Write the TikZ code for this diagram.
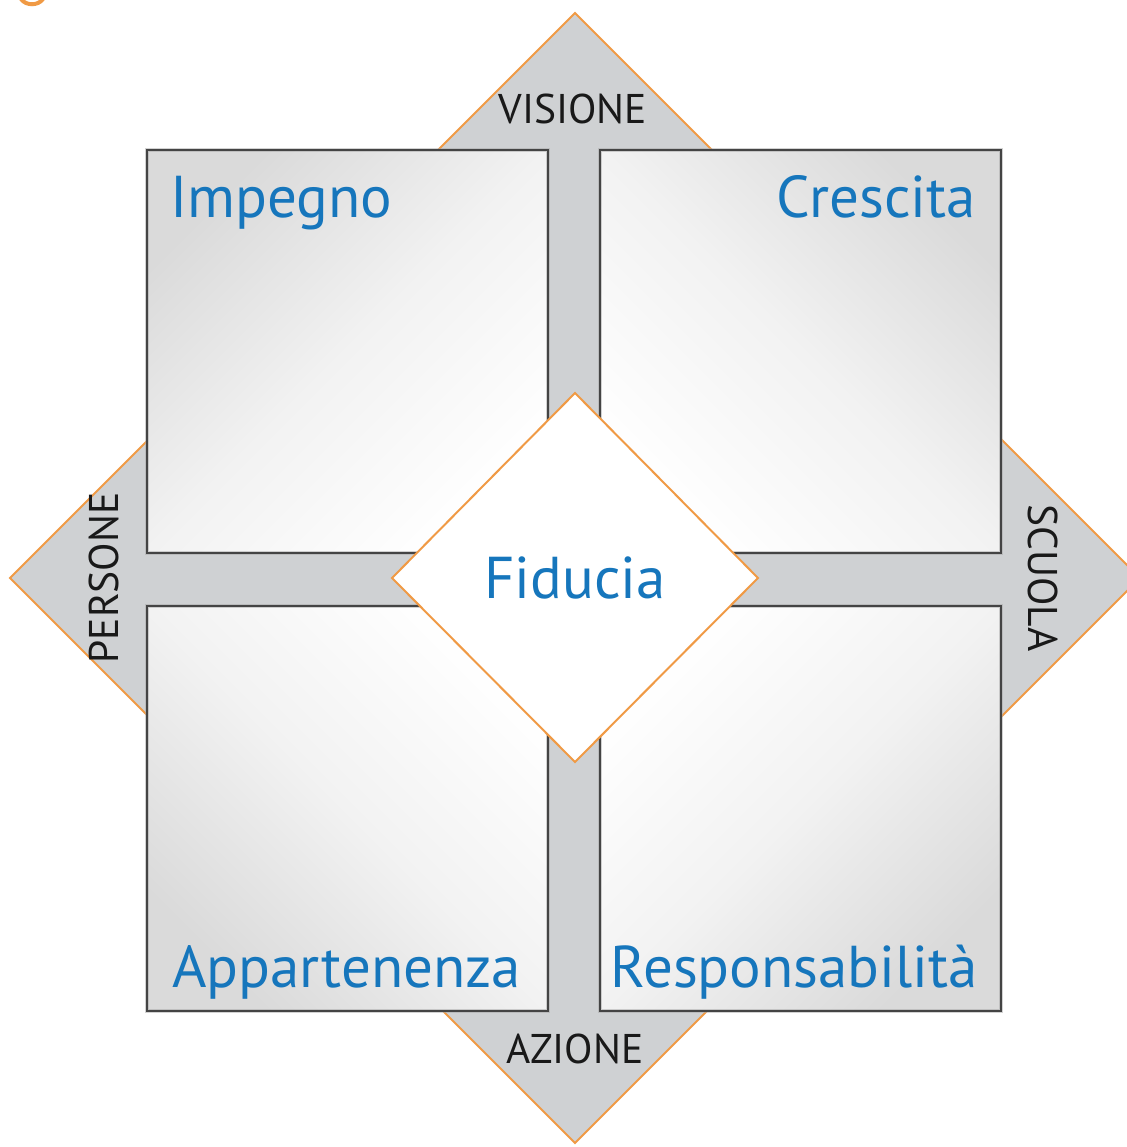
\documentclass[tikz,border=0pt]{standalone}
\usepackage{fontspec}
\setmainfont{PT Sans}
\definecolor{fblue}{HTML}{1676BC}
\definecolor{forange}{HTML}{F09A45}
\definecolor{dgray}{HTML}{CFD1D3}
\definecolor{sqgray}{HTML}{DADADA}
\definecolor{sqline}{HTML}{444444}
\newcommand{\mysq}[5]{%
  \shade[top color=sqgray, bottom color=white, middle color=sqgray!35!white, shading angle=#5] (#1,#2) rectangle (#3,#4);
  \draw[sqshadow] (#1,#2) rectangle (#3,#4);
  \draw[sqedge] (#1,#2) rectangle (#3,#4);}
\tikzset{
  sqedge/.style={draw=sqline, line width=2.5pt},
  sqshadow/.style={draw=black!35, line width=4pt, opacity=0.5},
  diamedge/.style={draw=forange, line width=2pt, line join=miter},
  bigword/.style={text=fblue, font=\fontsize{59}{70}\selectfont, inner sep=0pt},
  smallword/.style={text=black!90, font=\fontsize{41.5}{48}\selectfont, inner sep=0pt, anchor=base}
}
\begin{document}
\begin{tikzpicture}[x=1pt,y=-1pt]
\useasboundingbox (0,0) rectangle (1126,1147);
% cut-off orange fragment
\draw[forange, line width=4pt, line cap=round] (21,-1) .. controls (26,6) and (38,6) .. (43,-1);
% big diamond
\draw[diamedge, fill=dgray] (575,13) -- (1140,578) -- (575,1143) -- (10,578) -- cycle;
% squares
\mysq{147}{150}{548}{553}{45}
\mysq{600}{150}{1001}{553}{-45}
\mysq{147}{606}{548}{1011}{135}
\mysq{600}{606}{1001}{1011}{-135}
% center diamond
\draw[diamedge, fill=white] (575,393) -- (758,578) -- (575,762) -- (392,578) -- cycle;
% texts
\node[bigword, anchor=base west] (imp) at (170,218) {Impegno};
\node[bigword, anchor=base east] (cre) at (976,218) {Crescita};
\node[bigword, anchor=base west] (app) at (172,987) {Appartenenza};
\node[bigword, anchor=base east] (res) at (978,987) {Responsabilità};
\node[bigword, anchor=base] (fid) at (575,598) {Fiducia};
\node[smallword] (vis) at (573,124) {VISIONE};
\node[smallword] (azi) at (575,1063) {AZIONE};
\node[smallword, rotate=90] (per) at (118,578) {PERSONE};
\node[smallword, rotate=-90] (scu) at (1028,578) {SCUOLA};
\end{tikzpicture}
\end{document}
